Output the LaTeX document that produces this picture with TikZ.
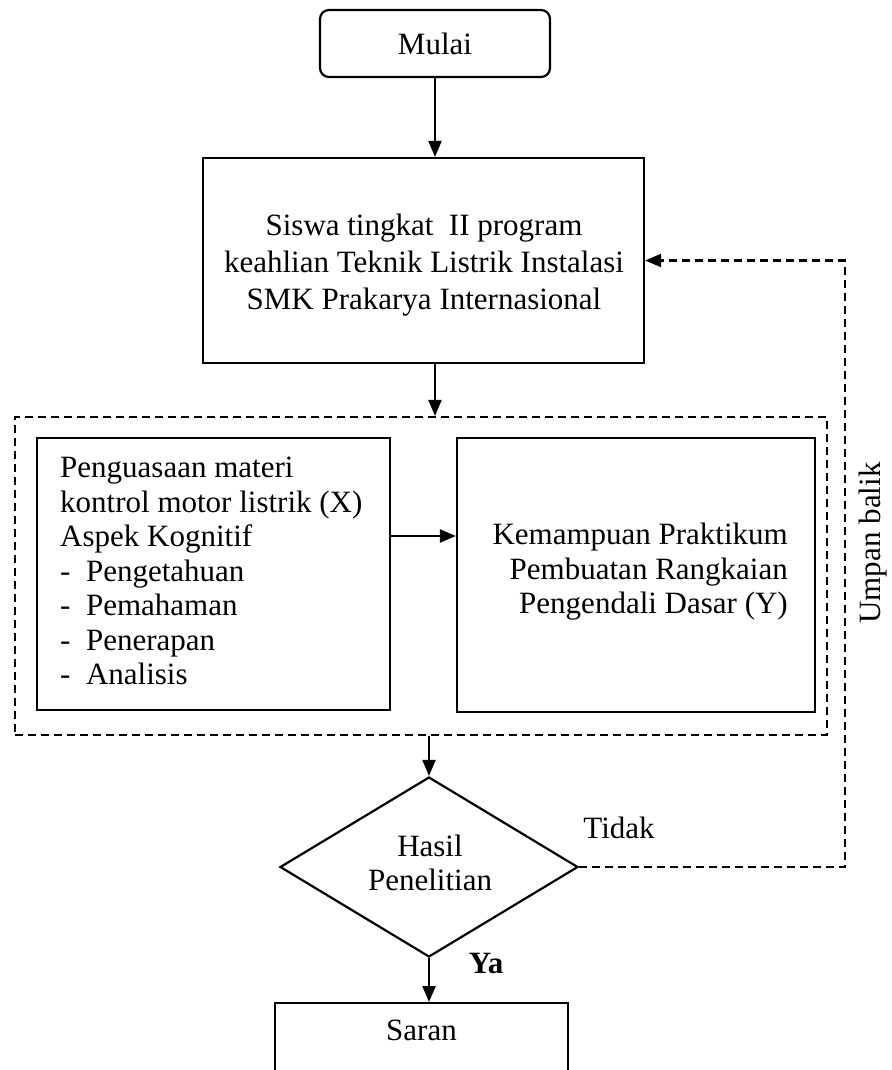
\documentclass[tikz,border=0pt]{standalone}
\usepackage{fontspec}
\setmainfont{Liberation Serif}
\usetikzlibrary{shapes.geometric,arrows.meta}
\begin{document}
\begin{tikzpicture}[x=1pt,y=-1pt,
  font=\fontsize{31}{34.5}\selectfont,
  box/.style={draw, line width=2.2pt, inner sep=0pt},
  arr/.style={line width=2.2pt, -{Triangle[length=16pt,width=13pt]}},
  fbline/.style={line width=2.2pt, dash pattern=on 8pt off 5pt}]
\useasboundingbox (0,0) rectangle (891,1070);
\clip (0,0) rectangle (891,1070);

\node[box, rounded corners=9pt, minimum width=230pt, minimum height=67pt] (mulai) at (435,43.5) {Mulai};
\node[box, minimum width=441pt, minimum height=205pt] (siswa) at (423.5,260.5) {};
\node[align=center, font=\fontsize{31}{37}\selectfont] (siswatext) at (424,265)
  {Siswa tingkat~ II program\\keahlian Teknik Listrik Instalasi\\SMK Prakarya Internasional};

\node[draw, fbline, inner sep=0pt, minimum width=812pt, minimum height=318pt] (group) at (421,576) {};
\node[box, minimum width=353pt, minimum height=272pt] (xbox) at (213.5,574) {};
\node[align=left, anchor=west, inner sep=0pt] (xtext) at (60,571)
  {Penguasaan materi\\kontrol motor listrik (X)\\Aspek Kognitif\\-\ \ Pengetahuan\\-\ \ Pemahaman\\-\ \ Penerapan\\-\ \ Analisis};
\node[box, minimum width=358pt, minimum height=274pt] (ybox) at (636,575) {};
\node[align=right, anchor=east, inner sep=0pt] (ytext) at (788,572)
  {Kemampuan Praktikum\\Pembuatan Rangkaian\\Pengendali Dasar (Y)};

\node[draw, diamond, line width=2.2pt, minimum width=298pt, minimum height=180pt, inner sep=0pt] (dia) at (429,867) {};
\node[align=center] (diatext) at (430,863) {Hasil\\Penelitian};

\node[box, minimum width=293pt, minimum height=140pt, anchor=north] (saranbox) at (421.5,1002) {};
\node (saran) at (421.5,1030) {Saran};

\node (tidak) at (619,828) {Tidak};
\node[font=\fontsize{31}{34.5}\selectfont\bfseries] (ya) at (486,963) {Ya};
\node[rotate=90] (umpan) at (873,543) {Umpan balik};

\coordinate (fbx) at (845,0);
\coordinate (ay) at (0,536);

\draw[arr] (mulai.south) -- (mulai.south |- siswa.north);
\draw[arr] (siswa.south -| mulai.south) -- (group.north -| mulai.south);
\draw[arr] (xbox.east |- ay) -- (ybox.west |- ay);
\draw[arr] (dia.north |- group.south) -- (dia.north);
\draw[arr] (dia.south) -- (dia.south |- saranbox.north);
\draw[arr, fbline] (dia.east) -- (dia.east -| fbx) -- (siswa.east -| fbx) -- (siswa.east);
\end{tikzpicture}
\end{document}
